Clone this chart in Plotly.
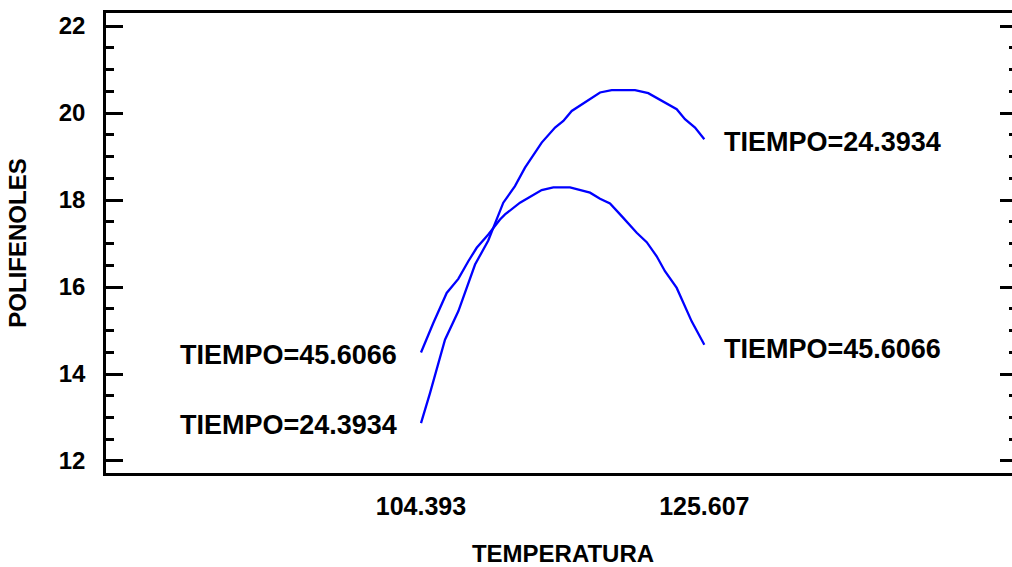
import plotly.graph_objects as go

# ---- data ----
temp_a = [104.393, 105.067, 106.190, 107.186, 108.44, 109.43, 110.555, 111.43, 112.18,
          113.43, 114.43, 115.05, 115.68, 117.80, 118.67, 120.42, 121.41, 122.66,
          123.54, 124.16, 124.91, 125.607]
poli_a = [12.869, 13.560, 14.788, 15.440, 16.516, 17.069, 17.938, 18.32, 18.744,
          19.32, 19.666, 19.818, 20.048, 20.472, 20.525, 20.525, 20.456, 20.242,
          20.088, 19.857, 19.666, 19.396]

temp_b = [104.393, 105.314, 106.317, 107.186, 107.935, 108.564, 109.432, 110.31, 110.683,
          111.806, 113.43, 114.30, 115.55, 117.05, 117.80, 118.545, 119.42, 120.545,
          121.294, 122.04, 122.66, 123.54, 124.66, 125.607]
poli_b = [14.495, 15.173, 15.864, 16.187, 16.592, 16.901, 17.207, 17.553, 17.668,
          17.938, 18.228, 18.29, 18.29, 18.168, 18.03, 17.922, 17.629, 17.247,
          17.030, 16.707, 16.362, 15.979, 15.210, 14.673]

label_a = "TIEMPO=24.3934"
label_b = "TIEMPO=45.6066"

x_tickvals = [104.393, 125.607]
x_ticktext = ["104.393", "125.607"]
y_tickvals = [12, 14, 16, 18, 20, 22]
y_ticktext = ["12", "14", "16", "18", "20", "22"]

x_title = "TEMPERATURA"
y_title = "POLIFENOLES"

FONT = "Liberation Sans, Arial, sans-serif"
BLUE = "#0000ff"

# the frame of the original continues a little past the right edge of the picture
FIG_W = 1020

fig = go.Figure()
fig.add_trace(go.Scatter(x=temp_a, y=poli_a, mode="lines",
                         line=dict(color=BLUE, width=2.3), showlegend=False,
                         hoverinfo="skip"))
fig.add_trace(go.Scatter(x=temp_b, y=poli_b, mode="lines",
                         line=dict(color=BLUE, width=2.3), showlegend=False,
                         hoverinfo="skip"))
# invisible trace on right axis to make sure it renders
fig.add_trace(go.Scatter(x=[temp_a[0]], y=[poli_a[0]], yaxis="y2", mode="markers",
                         marker=dict(opacity=0), showlegend=False, hoverinfo="skip"))

ann_font = dict(family=FONT, size=27, color="black", weight="bold")
anns = [
    dict(x=temp_b[0], y=poli_b[0], text=label_b, xanchor="right", xshift=-22, yshift=-3),
    dict(x=temp_a[0], y=poli_a[0], text=label_a, xanchor="right", xshift=-22, yshift=-2),
    dict(x=temp_a[-1], y=poli_a[-1], text=label_a, xanchor="left", xshift=18, yshift=-3),
    dict(x=temp_b[-1], y=poli_b[-1], text=label_b, xanchor="left", xshift=18, yshift=-4),
]
for a in anns:
    fig.add_annotation(xref="x", yref="y", showarrow=False, yanchor="middle",
                       font=ann_font, **a)

yrange = [11.724, 22.299]
fig.update_layout(
    width=FIG_W, height=567, autosize=False,
    margin=dict(l=106, r=0, t=13, b=94, autoexpand=False),
    paper_bgcolor="white", plot_bgcolor="white",
    font=dict(family=FONT, color="black"),
    xaxis=dict(
        range=[80.806, 149.245], showgrid=False, zeroline=False, automargin=False,
        showline=True, linecolor="black", linewidth=2.5, mirror=True,
        ticks="", tickvals=x_tickvals, ticktext=x_ticktext,
        tickfont=dict(family=FONT, size=25, color="black", weight="bold"),
        ticklabelstandoff=9,
        title=dict(text=x_title, standoff=27,
                   font=dict(family=FONT, size=24, color="black", weight="bold")),
    ),
    yaxis=dict(
        range=yrange, showgrid=False, zeroline=False, automargin=False,
        showline=True, linecolor="black", linewidth=2.5, mirror=False,
        ticks="inside", ticklen=17, tickwidth=2.5, tickcolor="black",
        tickvals=y_tickvals, ticktext=y_ticktext,
        tickfont=dict(family=FONT, size=24, color="black", weight="bold"),
        ticklabelstandoff=13,
        minor=dict(dtick=0.5, ticks="inside", ticklen=8, tickwidth=2.5,
                   tickcolor="black", showgrid=False),
        title=dict(text=y_title, standoff=26,
                   font=dict(family=FONT, size=24, color="black", weight="bold")),
    ),
    yaxis2=dict(
        range=yrange, overlaying="y", side="right", showgrid=False, zeroline=False,
        automargin=False,
        showline=True, linecolor="black", linewidth=2.5,
        ticks="inside", ticklen=20, tickwidth=2.5, tickcolor="black",
        tickvals=y_tickvals, showticklabels=False,
        minor=dict(dtick=0.5, ticks="inside", ticklen=11, tickwidth=2.5,
                   tickcolor="black", showgrid=False),
    ),
)

post = ("document.documentElement.style.overflow='hidden';"
        "document.body.style.margin='0';document.body.style.padding='0';"
        "document.body.style.overflow='hidden';")
fig.write_html("out.html", config={"responsive": False, "displayModeBar": False},
               post_script=post)
